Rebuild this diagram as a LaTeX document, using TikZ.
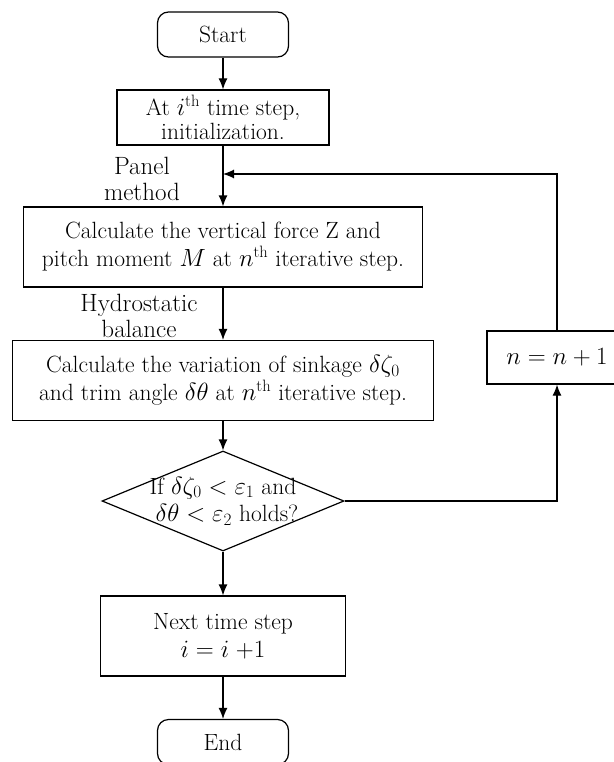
\documentclass[tikz,border=0pt]{standalone}
\usepackage{amsmath}
\usepackage{tikz}
\usetikzlibrary{arrows.meta}
\usetikzlibrary{shapes.geometric}
\newcommand{\flowfont}{\fontsize{23.5}{28}\selectfont}
\newcommand{\widthterminal}{131pt}
\newcommand{\widthupdate}{140pt}
\tikzset{
    common/.style={draw, line width=1.2pt, align=center, font=\flowfont, inner sep=0pt},
    terminal/.style={common, rectangle, rounded corners=11pt, minimum width=\widthterminal, minimum height=45pt},
    process/.style={common, rectangle, minimum height=80pt},
    decision/.style={common, diamond, minimum width=242pt, minimum height=100pt},
    note/.style={align=center, font=\fontsize{25}{26}\selectfont, inner sep=0pt},
    flow/.style={-{Latex[length=11pt, width=9pt]}, line width=1.2pt}
}

\begin{document}
\begin{tikzpicture}[x=1pt, y=1pt]
              \useasboundingbox (0,0) rectangle (613,-762);

              \path
                (223,-34.5) node[terminal] (start) {Start}
                ++(270:83) node[process, minimum width=212pt, minimum height=55pt, font=\fontsize{23.5}{24.5}\selectfont] (init)
                    {At $i$\textsuperscript{th} time step,\\ initialization.}
                ++(270:129.5) node[process, minimum width=399pt] (force)
                    {Calculate the vertical force Z and\\ pitch moment $M$ at $n$\textsuperscript{th} iterative step.}
                ++(270:133.5) node[process, minimum width=421pt] (variation)
                    {Calculate the variation of sinkage $\delta\zeta_0$\\ and trim angle $\delta\theta$ at $n$\textsuperscript{th} iterative step.}
                ++(270:120.5) node[decision] (check) {}
                ++(270:135) node[process, minimum width=245pt] (next)
                    {Next time step\\ $i = i\;{+}1$}
                ++(270:106) node[terminal] (end) {End};

              \node[note, font=\fontsize{23.5}{27.5}\selectfont] (check-text) at (check)
                  {If $\delta\zeta_0 < \varepsilon_1$ and\\ \hspace{8pt}$\delta\theta < \varepsilon_2$ holds?};
              \node[process, minimum width=\widthupdate, minimum height=53pt] (update) at (557,-357.5) {$n = n + 1$};

              \node[note] (panel) at (142,-179) {Panel\\ method};
              \node[note] (hydro) at (139,-315.5) {Hydrostatic\\ balance};

              \coordinate (merge) at (223,-174);

              \draw[flow] (start) -- (init);
              \draw[flow] (init) -- (force);
              \draw[flow] (force) -- (variation);
              \draw[flow] (variation) -- (check);
              \draw[flow] (check) -- (next);
              \draw[flow] (next) -- (end);
              \draw[flow] (check.east) -| (update.south);
              \draw[flow] (update.north) |- (merge);
            \end{tikzpicture}
\end{document}
